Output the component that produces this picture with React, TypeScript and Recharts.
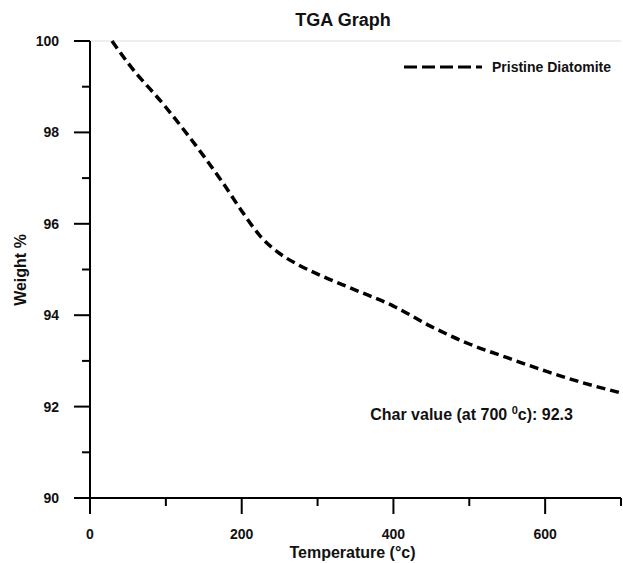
import React from 'react';
import {
  LineChart,
  Line,
  XAxis,
  YAxis,
  ReferenceLine,
  ReferenceDot,
} from 'recharts';

const temperatures = [29, 50, 100, 150, 175, 200, 225, 250, 275, 300, 350, 400, 450, 500, 550, 600, 650, 700];
const weights = [100.0, 99.52, 98.55, 97.48, 96.9, 96.28, 95.72, 95.35, 95.1, 94.9, 94.55, 94.2, 93.75, 93.37, 93.07, 92.78, 92.52, 92.3];
const xTicks = [0, 100, 200, 300, 400, 500, 600, 700];
const yTicks = [90, 91, 92, 93, 94, 95, 96, 97, 98, 99, 100];
const seriesName = 'Pristine Diatomite';

const data = temperatures.map((t, i) => ({ temp: t, weight: weights[i] }));

const FONT = '"Liberation Sans", Arial, sans-serif';
const NARROW = '"Liberation Sans Narrow", "Liberation Sans", Arial, sans-serif';
const OFFSET = 31; // tickSize + tickMargin

const YTick = (props: any) => {
  const { x, y, payload } = props;
  const ax = x + OFFSET;
  const major = payload.value % 2 === 0;
  return (
    <g>
      <line x1={ax - (major ? 16 : 8)} x2={ax} y1={y} y2={y} stroke="#000" strokeWidth={2} />
      {major && (
        <text x={x} y={y} dy="0.35em" textAnchor="end" fontFamily={FONT} fontWeight="bold" fontSize={14} fill="#111">
          {payload.value}
        </text>
      )}
    </g>
  );
};

const XTick = (props: any) => {
  const { x, y, payload } = props;
  const ay = y - OFFSET;
  const major = payload.value % 200 === 0;
  return (
    <g>
      <line x1={x} x2={x} y1={ay} y2={ay + (major ? 16 : 8)} stroke="#000" strokeWidth={2} />
      {major && (
        <text x={x} y={y + 10} textAnchor="middle" fontFamily={FONT} fontWeight="bold" fontSize={14} fill="#111">
          {payload.value}
        </text>
      )}
    </g>
  );
};

const CharLabel = (props: any) => {
  const { viewBox } = props;
  const cx = viewBox.cx ?? viewBox.x;
  const cy = viewBox.cy ?? viewBox.y;
  return (
    <text x={cx} y={cy} textAnchor="middle" dy="0.35em" fontFamily={FONT} fontWeight="bold" fontSize={16} fill="#111">
      Char value (at 700 <tspan fontSize={11} dy="-6">0</tspan>
      <tspan dy="6">c): 92.3</tspan>
    </text>
  );
};

export default function App() {
  return (
    <div style={{ position: 'absolute', left: 0, top: 0, width: 623, height: 563, background: '#fff' }}>
      <div
        style={{
          position: 'absolute',
          left: 243,
          top: 10,
          width: 200,
          textAlign: 'center',
          fontFamily: FONT,
          fontWeight: 'bold',
          fontSize: 18,
          color: '#111',
        }}
      >
        TGA Graph
      </div>
      <svg width={210} height={20} style={{ position: 'absolute', left: 402, top: 57, zIndex: 2 }}>
        <line x1={2} x2={80} y1={10} y2={10} stroke="#000" strokeWidth={3} strokeDasharray="13 5" />
        <text x={90} y={10} dy="0.35em" fontFamily={NARROW} fontWeight="bold" fontSize={14} fill="#111">
          {seriesName}
        </text>
      </svg>
      <LineChart width={623} height={563} data={data} margin={{ top: 41, right: 2, left: 0, bottom: 0 }}>
        <ReferenceLine y={100} stroke="#dddddd" strokeWidth={1} />
        <XAxis
          dataKey="temp"
          type="number"
          domain={[0, 700]}
          ticks={xTicks}
          interval={0}
          height={65}
          tickSize={16}
          tickMargin={15}
          tickLine={false}
          tick={<XTick />}
          axisLine={{ stroke: '#000', strokeWidth: 2 }}
          label={{
            value: 'Temperature (°c)',
            position: 'insideBottom',
            offset: 5,
            dx: -3,
            fontFamily: FONT,
            fontWeight: 'bold',
            fontSize: 16,
            fill: '#111',
          }}
        />
        <YAxis
          type="number"
          domain={[90, 100]}
          ticks={yTicks}
          interval={0}
          width={90}
          tickSize={16}
          tickMargin={15}
          tickLine={false}
          tick={<YTick />}
          axisLine={{ stroke: '#000', strokeWidth: 2 }}
          label={{
            content: () => (
              <text
                x={20}
                y={270}
                transform="rotate(-90 20 270)"
                textAnchor="middle"
                dy="0.35em"
                fontFamily={FONT}
                fontWeight="bold"
                fontSize={16}
                fill="#111"
              >
                Weight %
              </text>
            ),
          }}
        />
        <ReferenceDot x={503} y={91.82} r={0} stroke="none" label={<CharLabel />} />
        <Line
          type="monotone"
          dataKey="weight"
          name={seriesName}
          stroke="#000"
          strokeWidth={3.5}
          strokeDasharray="9 5"
          dot={false}
          isAnimationActive={false}
        />
      </LineChart>
    </div>
  );
}
